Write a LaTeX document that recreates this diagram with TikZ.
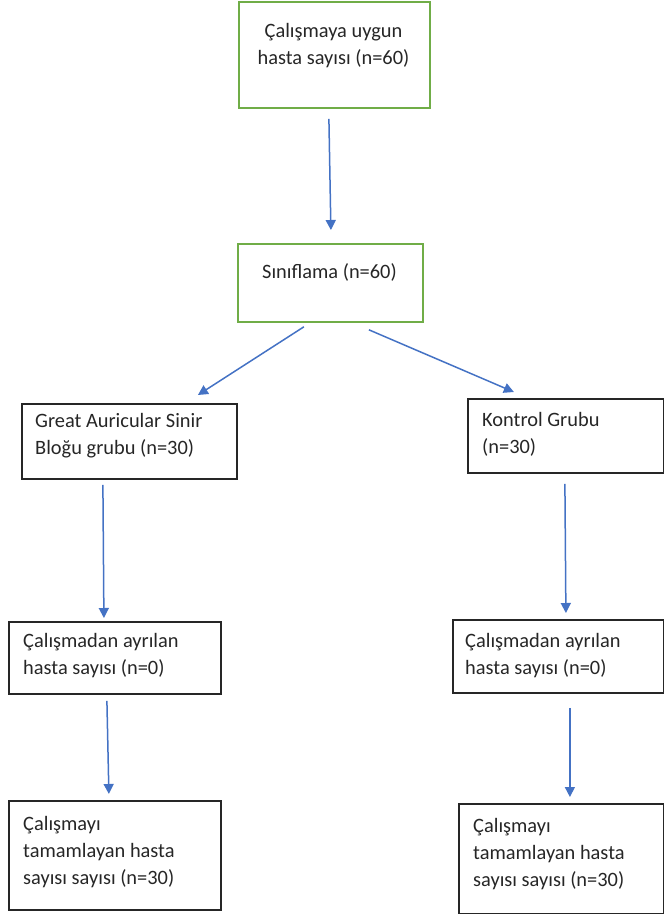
\documentclass[tikz,border=0pt]{standalone}
\usepackage{fontspec}
\setmainfont{Carlito}
\usetikzlibrary{arrows.meta}
\definecolor{boxgreen}{HTML}{70AD47}
\definecolor{arrblue}{HTML}{4472C4}
\tikzset{
  box/.style={draw, line width=1.8pt, anchor=north west, inner sep=0pt},
  gbox/.style={box, draw=boxgreen},
  kbox/.style={box, draw=black!85},
  txt/.style={inner sep=0pt, font=\fontsize{20.4}{27}\selectfont, text=black!85},
  arr/.style={draw=arrblue, line width=1.5pt, -{Triangle[length=10pt,width=10pt]}}
}
\begin{document}
\begin{tikzpicture}[x=1pt,y=-1pt]
\useasboundingbox (0,0) rectangle (664,914);
% boxes
\node[gbox, minimum width=191pt, minimum height=106pt] (b1) at (238,1) {};
\node[gbox, minimum width=185pt, minimum height=78pt] (b2) at (237,243) {};
\node[kbox, minimum width=215pt, minimum height=75pt] (b3) at (21,403) {};
\node[kbox, minimum width=196pt, minimum height=74pt] (b4) at (467,398) {};
\node[kbox, minimum width=212pt, minimum height=72pt] (b5) at (8,621) {};
\node[kbox, minimum width=211pt, minimum height=73pt] (b6) at (452,619) {};
\node[kbox, minimum width=212pt, minimum height=109pt] (b7) at (8,800) {};
\node[kbox, minimum width=205pt, minimum height=110pt] (b8) at (458,803) {};
% texts
\node[txt, anchor=north, align=center] (t1) at (333.5,18.5) {\strut Çalışmaya uygun\\hasta sayısı (n=60)};
\node[txt, anchor=north, align=center] (t2) at (329.5,259.75) {\strut Sınıflama (n=60)};
\node[txt, anchor=north west, align=left] (t3) at (35,408.75) {\strut Great Auricular Sinir\\Bloğu grubu (n=30)};
\node[txt, anchor=north west, align=left] (t4) at (482,407.75) {\strut Kontrol Grubu\\(n=30)};
\node[txt, anchor=north west, align=left] (t5) at (23,628.75) {\strut Çalışmadan ayrılan\\hasta sayısı (n=0)};
\node[txt, anchor=north west, align=left] (t6) at (465,628.75) {\strut Çalışmadan ayrılan\\hasta sayısı (n=0)};
\node[txt, anchor=north west, align=left] (t7) at (23,811.75) {\strut Çalışmayı\\tamamlayan hasta\\sayısı sayısı (n=30)};
\node[txt, anchor=north west, align=left] (t8) at (473,813.75) {\strut Çalışmayı\\tamamlayan hasta\\sayısı sayısı (n=30)};
% arrows
\draw[arr] ([shift={(-5.5,10)}]b1.south) -- ([shift={(0.5,-13)}]b2.north);
\draw[arr] ([shift={(-26.5,4)}]b2.south) -- ([shift={(68.5,-8)}]b3.north);
\draw[arr] ([shift={(38.5,7)}]b2.south) -- ([shift={(-52,-6)}]b4.north);
\draw[arr] ([shift={(-26.5,5)}]b3.south) -- ([shift={(-11,-3)}]b5.north);
\draw[arr] ([shift={(-1,10)}]b4.south) -- ([shift={(7.5,-6)}]b6.north);
\draw[arr] ([shift={(-8,6)}]b5.south) -- ([shift={(-6,-6)}]b7.north);
\draw[arr] ([shift={(11.5,14)}]b6.south) -- ([shift={(8.5,-6)}]b8.north);
\end{tikzpicture}
\end{document}
